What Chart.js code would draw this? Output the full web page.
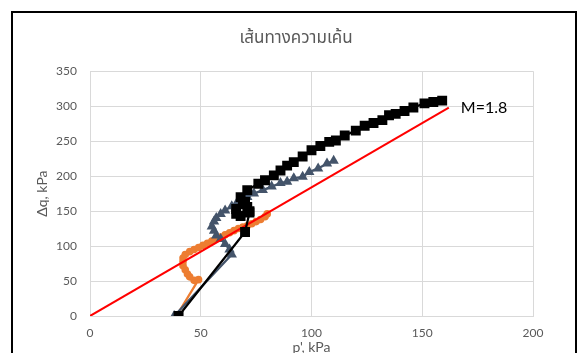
<!DOCTYPE html>
<html><head><meta charset="utf-8">
<script src="https://cdn.jsdelivr.net/npm/chart.js@4"></script>
<style>
html,body{margin:0;padding:0;background:#fff;overflow:hidden;}
#wrap{position:absolute;left:0;top:0;width:579px;height:380px;}
#frame{position:absolute;left:11px;top:11px;width:562px;height:420px;border:2px solid #000;pointer-events:none;}
</style></head><body>
<div id="wrap"><canvas id="c" width="579" height="380"></canvas></div>
<div id="frame"></div>
<script>
const titleText = 'เส้นทางความเค้น';
const xTitle = "p', kPa";
const yTitle = 'Δq, kPa';
const seriesNames = ['OCR1', 'OCR3', 'OCR5'];

const ocr1X = [39, 49, 47, 45, 44, 43, 42, 42, 42, 43, 45, 47, 49, 51, 53, 55, 57, 59, 61, 63, 65, 67, 69, 71, 73, 75, 77, 79, 80];
const ocr1Y = [0, 52, 51, 56, 60, 66, 72, 78, 83, 88, 92, 95, 98, 101, 104, 107, 110, 113, 116, 119, 122, 125, 127, 129, 132, 135, 138, 142, 146];

const ocr3X = [38, 64, 63, 61, 59, 57, 56, 55, 56, 57, 59, 61, 64, 66, 68, 71, 74, 78, 82, 86, 89, 92, 96, 99, 103, 107, 110];
const ocr3Y = [0, 88, 95, 103, 110, 115, 122, 128, 135, 140, 146, 151, 157, 160, 163, 170, 175, 180, 185, 190, 192, 197, 199, 206, 211, 218, 222];

const ocr5X = [40, 70, 72, 71, 69, 66, 66, 68, 72, 70, 68, 71, 76, 79, 83, 86, 89, 92, 96, 100, 104, 108, 111, 115, 120, 124, 128, 132, 135, 138, 142, 146, 151, 155, 159];
const ocr5Y = [0, 120, 148, 156, 160, 153, 146, 143, 150, 163, 170, 180, 189, 194, 201, 208, 215, 220, 228, 237, 243, 249, 251, 258, 265, 272, 276, 280, 287, 289, 293, 298, 304, 306, 308];

const mLineX = [0, 162];
const mLineY = [0, 298];
const mLabel = 'M=1.8';

const xTicks = [0, 50, 100, 150, 200];
const yTicks = [0, 50, 100, 150, 200, 250, 300, 350];

const pts = (xs, ys) => xs.map((x, i) => ({x: x, y: ys[i]}));

const C1 = '#ED7D31', C3 = '#44546A', C5 = '#000000';
const thaiFont = "'Noto Sans Thai', 'Noto Sans', 'DejaVu Sans', sans-serif";
const latin = "Lato, 'Open Sans', sans-serif";

function legendIcon(color, style) {
  const c = document.createElement('canvas');
  c.width = 29; c.height = 12;
  const g = c.getContext('2d');
  g.strokeStyle = color; g.lineWidth = 2;
  g.beginPath(); g.moveTo(0, 6); g.lineTo(29, 6); g.stroke();
  g.fillStyle = color;
  g.beginPath();
  if (style === 'circle') { g.arc(14.5, 6, 3.8, 0, Math.PI * 2); }
  else if (style === 'triangle') { g.moveTo(14.5, 1); g.lineTo(19.5, 10); g.lineTo(9.5, 10); g.closePath(); }
  else { g.rect(10, 1.5, 9, 9); }
  g.fill();
  return c;
}
const icons = [legendIcon(C1, 'circle'), legendIcon(C3, 'triangle'), legendIcon(C5, 'rect')];

const legendInside = {
  id: 'legendInside',
  beforeLayout(chart) {
    const lg = chart.legend;
    if (lg && !lg._patched) {
      const f = lg.fit;
      lg.fit = function () { f.call(this); this.height = 0; };
      lg._patched = true;
    }
  },
  afterLayout(chart) {
    const lg = chart.legend;
    if (lg && lg.lineWidths) {
      const pad = lg.options.labels.padding;
      const startX = (lg.left + pad + lg.right - lg.lineWidths[0]) / 2;
      const dx = 186 - startX;
      lg.left += dx; lg.right += dx;
      lg.top = 81 - pad - 6;
    }
    const tb = chart.titleBlock;
    if (tb) {
      const c = (tb.left + tb.right) / 2;
      const d = 296 - c;
      tb.left += d; tb.right += d;
    }
  }
};

const mLabelPlugin = {
  id: 'mLabel',
  afterDatasetsDraw(chart) {
    const xs = chart.scales.x, ys = chart.scales.y;
    const px = xs.getPixelForValue(mLineX[1]);
    const py = ys.getPixelForValue(mLineY[1]);
    const ctx = chart.ctx;
    ctx.save();
    ctx.font = '16px ' + latin;
    ctx.fillStyle = '#000';
    ctx.textBaseline = 'middle';
    ctx.textAlign = 'left';
    ctx.fillText(mLabel, px + 12, py + 0.5);
    ctx.restore();
  }
};

new Chart(document.getElementById('c'), {
  type: 'scatter',
  data: {
    datasets: [
      {label: seriesNames[0], data: pts(ocr1X, ocr1Y), showLine: true, borderColor: C1, backgroundColor: C1,
       borderWidth: 2.25, pointStyle: 'circle', pointRadius: 3.8, pointBorderWidth: 0, order: 4},
      {label: seriesNames[1], data: pts(ocr3X, ocr3Y), showLine: true, borderColor: C3, backgroundColor: C3,
       borderWidth: 2.25, pointStyle: 'triangle', pointRadius: 6, pointBorderWidth: 0, order: 3},
      {label: seriesNames[2], data: pts(ocr5X, ocr5Y), showLine: true, borderColor: C5, backgroundColor: C5,
       borderWidth: 2.25, pointStyle: 'rect', pointRadius: 7, pointBorderWidth: 0, order: 1},
      {label: 'M', data: pts(mLineX, mLineY), showLine: true, borderColor: '#FF0000', backgroundColor: '#FF0000',
       borderWidth: 2, pointRadius: 0, order: 2}
    ]
  },
  options: {
    responsive: false,
    animation: false,
    events: [],
    layout: {padding: {left: 30, right: 46, top: 20, bottom: 20}},
    plugins: {
      title: {display: true, text: titleText, color: '#595959',
        font: {family: thaiFont, size: 17, weight: 'normal'}, padding: {top: 9.8, bottom: 21}},
      legend: {
        display: true, position: 'top', align: 'center',
        labels: {
          usePointStyle: true, pointStyleWidth: 29, boxHeight: 12, padding: 14,
          color: '#595959', font: {family: latin, size: 12},
          generateLabels(chart) {
            return seriesNames.map((n, i) => ({
              text: n, pointStyle: icons[i], fillStyle: '#000', strokeStyle: '#000',
              lineWidth: 0, hidden: false, datasetIndex: i, fontColor: '#595959'
            }));
          }
        }
      },
      tooltip: {enabled: false}
    },
    scales: {
      x: {
        type: 'linear', min: xTicks[0], max: xTicks[xTicks.length - 1],
        afterBuildTicks(s) { s.ticks = xTicks.map(v => ({value: v})); },
        ticks: {color: '#595959', font: {family: latin, size: 12}, padding: 10},
        grid: {color: '#d9d9d9', drawTicks: false, lineWidth: 1},
        border: {color: '#d9d9d9'},
        title: {display: true, text: xTitle, color: '#595959', font: {family: latin, size: 14}},
        afterFit(s) { s.height = 44; }
      },
      y: {
        type: 'linear', min: yTicks[0], max: yTicks[yTicks.length - 1],
        afterBuildTicks(s) { s.ticks = yTicks.map(v => ({value: v})); },
        ticks: {color: '#595959', font: {family: latin, size: 12}, padding: 13},
        grid: {color: '#d9d9d9', drawTicks: false, lineWidth: 1},
        border: {color: '#d9d9d9'},
        title: {display: true, text: yTitle, color: '#595959', font: {family: latin, size: 14}},
        afterFit(s) { s.width = 60; }
      }
    }
  },
  plugins: [legendInside, mLabelPlugin]
});
</script>
</body></html>
